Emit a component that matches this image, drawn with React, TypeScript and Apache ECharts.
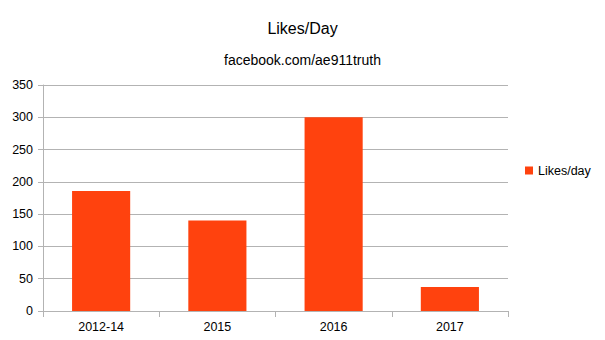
import React, { useEffect, useRef } from "react";
import * as echarts from "echarts";

const categories = ["2012-14", "2015", "2016", "2017"];
const likesPerDay = [186, 140, 300, 37];
const seriesName = "Likes/day";
const titleText = "Likes/Day";
const subtitleText = "facebook.com/ae911truth";

const FONT = "'Liberation Sans', Arial, sans-serif";

export default function App() {
  const ref = useRef<HTMLDivElement>(null);
  useEffect(() => {
    if (!ref.current) return;
    const chart = echarts.init(ref.current, null, { renderer: "svg" });
    chart.setOption({
      animation: false,
      backgroundColor: "#ffffff",
      textStyle: { fontFamily: FONT },
      title: [
        {
          text: titleText,
          left: "center",
          top: 20,
          padding: 0,
          textStyle: { fontSize: 16, fontWeight: "normal", color: "#000", fontFamily: FONT },
        },
        {
          text: subtitleText,
          left: "center",
          top: 53,
          padding: 0,
          textStyle: { fontSize: 14, fontWeight: "normal", color: "#000", fontFamily: FONT },
        },
      ],
      legend: {
        orient: "vertical",
        left: 525,
        top: 164,
        padding: 0,
        itemWidth: 8,
        itemHeight: 8,
        icon: "rect",
        itemGap: 5,
        textStyle: { fontSize: 12.5, color: "#000", fontFamily: FONT },
        data: [seriesName],
      },
      grid: { left: 43, right: 97, top: 85, bottom: 29, containLabel: false },
      xAxis: {
        type: "category",
        data: categories,
        boundaryGap: true,
        axisLine: { lineStyle: { color: "#b3b3b3" } },
        axisTick: { show: true, length: 6, inside: false, lineStyle: { color: "#b3b3b3" } },
        axisLabel: { color: "#000", fontSize: 12.5, margin: 9, fontFamily: FONT },
      },
      yAxis: {
        type: "value",
        min: 0,
        max: 350,
        interval: 50,
        axisLine: { show: true, lineStyle: { color: "#b3b3b3" } },
        axisTick: { show: true, length: 5, lineStyle: { color: "#b3b3b3" } },
        axisLabel: { color: "#000", fontSize: 12.5, margin: 10, fontFamily: FONT },
        splitLine: { show: true, lineStyle: { color: "#b3b3b3" } },
      },
      series: [
        {
          name: seriesName,
          type: "bar",
          data: likesPerDay,
          barCategoryGap: "50%",
          itemStyle: { color: "#ff420e" },
        },
      ],
    });
    return () => chart.dispose();
  }, []);
  return (
    <div
      ref={ref}
      style={{ position: "fixed", left: 0, top: 0, width: 605, height: 340 }}
    />
  );
}
